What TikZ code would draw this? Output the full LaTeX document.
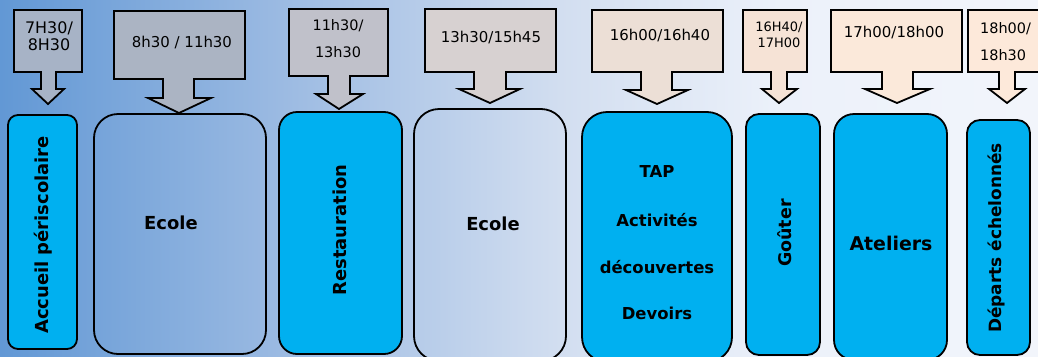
\documentclass[tikz,border=0pt]{standalone}
\usepackage{fontspec}
\setmainfont{DejaVu Sans}
\definecolor{bgA}{RGB}{98,152,213}
\definecolor{bgB}{RGB}{155,186,226}
\definecolor{bgC}{RGB}{210,222,240}
\definecolor{bgD}{RGB}{236,241,250}
\definecolor{bgE}{RGB}{242,245,251}
\definecolor{cyanbox}{RGB}{0,176,240}
\definecolor{cA}{RGB}{167,179,198}
\definecolor{cB}{RGB}{171,180,195}
\definecolor{cC}{RGB}{192,193,202}
\definecolor{cD}{RGB}{215,209,209}
\definecolor{cE}{RGB}{236,223,214}
\definecolor{cF}{RGB}{246,227,214}
\definecolor{cG}{RGB}{251,233,218}
\definecolor{cH}{RGB}{253,233,218}
\tikzset{
  callout/.style={draw=black, line width=1.8bp, line join=miter},
  timetxt/.style={font=\fontsize{15}{17}\selectfont, align=center, inner sep=0pt},
  smalltime/.style={font=\fontsize{13}{16}\selectfont, align=center, inner sep=0pt},
  slot/.style={draw=black, line width=1.8bp, rectangle, inner sep=0pt},
  fullslot/.style={slot, fill=cyanbox},
  lbl/.style={font=\bfseries\fontsize{18}{20}\selectfont, inner sep=0pt},
  tapl/.style={lbl, font=\bfseries\fontsize{16.5}{18}\selectfont},
  vlbl/.style={lbl, rotate=90}
}
\begin{document}
\begin{tikzpicture}[x=1bp,y=-1bp]
\useasboundingbox (0,0) rectangle (1038,356);
\clip (0,0) rectangle (1038,356);
% background gradient
\shade[left color=bgA, right color=bgB] (0,0) rectangle (280,356);
\shade[left color=bgB, right color=bgC] (279.5,0) rectangle (560,356);
\shade[left color=bgC, right color=bgD] (559.5,0) rectangle (780,356);
\shade[left color=bgD, right color=bgE] (779.5,0) rectangle (1038,356);

% callouts
\filldraw[callout, fill=cA] (14,10)--(82,10)--(82,72)--(56,72)--(56,89)--(64,89)--(48,104)--(32,89)--(41,89)--(41,72)--(14,72)--cycle;
\filldraw[callout, fill=cB] (114,11)--(245,11)--(245,79)--(194,79)--(194,98)--(211,98)--(179,113)--(148,98)--(163,98)--(163,79)--(114,79)--cycle;
\filldraw[callout, fill=cC] (289,9)--(388,9)--(388,76)--(350,76)--(350,94)--(363,94)--(339,109)--(316,94)--(328,94)--(328,76)--(289,76)--cycle;
\filldraw[callout, fill=cD] (425,9)--(556,9)--(556,72)--(506,72)--(506,89)--(520,89)--(490,103)--(459,89)--(474,89)--(474,72)--(425,72)--cycle;
\filldraw[callout, fill=cE] (592,10)--(723,10)--(723,72)--(672,72)--(672,90)--(688,90)--(657,104)--(626,90)--(641,90)--(641,72)--(592,72)--cycle;
\filldraw[callout, fill=cF] (743,10)--(807,10)--(807,72)--(787,72)--(787,89)--(797,89)--(779,103)--(762,89)--(771,89)--(771,72)--(743,72)--cycle;
\filldraw[callout, fill=cG] (831,10)--(962,10)--(962,72)--(913,72)--(913,89)--(930,89)--(897,103)--(865,89)--(882,89)--(882,72)--(831,72)--cycle;
\filldraw[callout, fill=cH] (968,10)--(1048,10)--(1048,72)--(1015,72)--(1015,89)--(1025,89)--(1007,103)--(989,89)--(999,89)--(999,72)--(968,72)--cycle;

% callout texts
\node[timetxt, font=\fontsize{16}{17}\selectfont] (t1) at (49,36) {7H30/\\8H30};
\node[timetxt] (t2) at (182,43) {8h30 / 11h30};
\node[timetxt, font=\fontsize{14.5}{27}\selectfont] (t3) at (338,38.5) {11h30/\\13h30};
\node[timetxt] (t4) at (491,38) {13h30/15h45};
\node[timetxt] (t5) at (660,36) {16h00/16h40};
\node[smalltime] (t6) at (779,35) {16H40/\\17H00};
\node[timetxt] (t7) at (894,33) {17h00/18h00};
\node[timetxt, font=\fontsize{14.5}{27}\selectfont, align=left, anchor=west] (t8) at (980,41.5) {18h00/\\18h30};

% main boxes
\node[fullslot, rounded corners=10bp, minimum width=69bp, minimum height=234bp] (b1) at (42.5,232) {};
\node[slot, rounded corners=24bp, minimum width=172bp, minimum height=240bp] (b2) at (180,234) {};
\node[fullslot, rounded corners=18bp, minimum width=123bp, minimum height=242bp] (b3) at (340.5,233) {};
\node[slot, rounded corners=25bp, minimum width=152bp, minimum height=252bp] (b4) at (490,235) {};
\node[fullslot, rounded corners=25bp, minimum width=150bp, minimum height=250bp] (b5) at (657,237) {};
\node[fullslot, rounded corners=13bp, minimum width=74bp, minimum height=241bp] (b6) at (783,234.5) {};
\node[fullslot, rounded corners=20bp, minimum width=113bp, minimum height=246bp] (b7) at (890.5,237) {};
\node[fullslot, rounded corners=13bp, minimum width=63bp, minimum height=235bp] (b8) at (998.5,237.5) {};

% labels
\node[vlbl] (l1) at (43,235) {Accueil périscolaire};
\node[lbl] (l2) at (171,223) {Ecole};
\node[vlbl] (l3) at (340,230) {Restauration};
\node[lbl] (l4) at (493,224) {Ecole};
\node[tapl] (l5a) at (657,172) {TAP};
\node[tapl] (l5b) at (657,220) {Activités};
\node[tapl] (l5c) at (657,267) {découvertes};
\node[tapl] (l5d) at (657,313) {Devoirs};
\node[vlbl, font=\bfseries\fontsize{17.5}{20}\selectfont] (l6) at (785,233) {Goûter};
\node[lbl, font=\bfseries\fontsize{19}{20}\selectfont] (l7) at (891,243) {Ateliers};
\node[vlbl, font=\bfseries\fontsize{17}{20}\selectfont] (l8) at (996,238) {Départs échelonnés};
\end{tikzpicture}
\end{document}
